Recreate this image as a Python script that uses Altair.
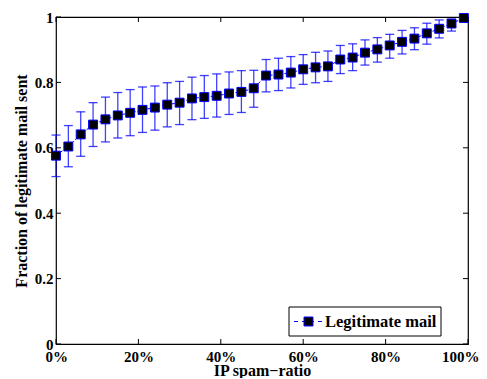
import altair as alt
import pandas as pd

# ---- data ----
ratio = [i * 3 for i in range(34)]
mean = [0.576, 0.604, 0.641, 0.671, 0.687, 0.699, 0.707, 0.716, 0.723, 0.732,
        0.738, 0.751, 0.755, 0.759, 0.766, 0.771, 0.782, 0.821, 0.824, 0.830,
        0.840, 0.846, 0.849, 0.870, 0.876, 0.891, 0.901, 0.913, 0.924, 0.934,
        0.950, 0.964, 0.980, 0.997]
upper = [0.639, 0.668, 0.710, 0.738, 0.755, 0.769, 0.778, 0.786, 0.789, 0.799,
         0.803, 0.816, 0.821, 0.826, 0.832, 0.836, 0.837, 0.870, 0.874, 0.879,
         0.885, 0.892, 0.896, 0.913, 0.918, 0.930, 0.937, 0.947, 0.959, 0.967,
         0.981, 0.991, 0.993, 1.0]
lower = [0.512, 0.542, 0.574, 0.604, 0.618, 0.630, 0.637, 0.647, 0.654, 0.664,
         0.671, 0.686, 0.690, 0.694, 0.702, 0.708, 0.724, 0.771, 0.775, 0.783,
         0.794, 0.799, 0.803, 0.827, 0.836, 0.853, 0.862, 0.874, 0.887, 0.900,
         0.917, 0.936, 0.957, 0.994]
x_ticks = [0, 20, 40, 60, 80, 100]
y_ticks = [0, 0.2, 0.4, 0.6, 0.8, 1.0]
series_name = "Legitimate mail"

W, H = 412, 327
FONT = "Liberation Serif"
BLUE = "#0000ff"

df = pd.DataFrame({"ratio": ratio, "mean": mean, "lo": lower, "hi": upper})
xt = pd.DataFrame({"t": x_ticks})
yt = pd.DataFrame({"t": y_ticks})
one = pd.DataFrame({"a": [0]})

xs = alt.Scale(domain=[0, 100], nice=False)
ys = alt.Scale(domain=[0, 1], nice=False)

xenc = alt.X("ratio:Q", scale=xs,
             axis=alt.Axis(values=x_ticks, labelExpr="datum.value + '%'",
                           title="IP spam\u2212ratio", titleBaseline="alphabetic",
                           titleY=31, labelFlush=True, labelFlushOffset=11,
                           labelPadding=5))
yenc = alt.Y("mean:Q", scale=ys,
             axis=alt.Axis(values=y_ticks,
                           labelExpr="datum.value == 0 || datum.value == 1 ? format(datum.value, 'd') : format(datum.value, '.1f')",
                           title="Fraction of legitimate mail sent", titlePadding=5,
                           labelFlush=False, labelPadding=3))

base = alt.Chart(df)

bars = base.mark_rule(color=BLUE, strokeWidth=1.3, opacity=0.75).encode(
    x=xenc, y=alt.Y("lo:Q", scale=ys), y2="hi:Q")
cap_hi = base.mark_tick(color=BLUE, thickness=1.3, size=9, opacity=0.75, orient="horizontal").encode(
    x=alt.X("ratio:Q", scale=xs), y=alt.Y("hi:Q", scale=ys))
cap_lo = base.mark_tick(color=BLUE, thickness=1.3, size=9, opacity=0.75, orient="horizontal").encode(
    x=alt.X("ratio:Q", scale=xs), y=alt.Y("lo:Q", scale=ys))
line = base.mark_line(color=BLUE, strokeWidth=1, strokeDash=[3, 2]).encode(
    x=alt.X("ratio:Q", scale=xs), y=yenc)
pts = base.mark_point(shape="square", filled=True, fill="black", stroke=BLUE,
                      strokeWidth=1, size=80, opacity=1).encode(
    x=alt.X("ratio:Q", scale=xs), y=alt.Y("mean:Q", scale=ys))

# inward ticks (MATLAB style) on all four sides
tk = dict(color="black", strokeWidth=1)
xb = alt.Chart(xt).mark_rule(**tk).encode(x=alt.X("t:Q", scale=xs), y=alt.value(H), y2=alt.value(H - 5))
xtop = alt.Chart(xt).mark_rule(**tk).encode(x=alt.X("t:Q", scale=xs), y=alt.value(0), y2=alt.value(5))
yl = alt.Chart(yt).mark_rule(**tk).encode(y=alt.Y("t:Q", scale=ys), x=alt.value(0), x2=alt.value(5))
yr = alt.Chart(yt).mark_rule(**tk).encode(y=alt.Y("t:Q", scale=ys), x=alt.value(W - 5), x2=alt.value(W))

# legend box
lx0, lx1, ly0, ly1 = 233, 385, 290, 319
lbox = alt.Chart(one).mark_rect(fill="white", stroke="black", strokeWidth=1).encode(
    x=alt.value(lx0), x2=alt.value(lx1), y=alt.value(ly0), y2=alt.value(ly1))
lline = alt.Chart(one).mark_rule(color=BLUE, strokeWidth=1, strokeDash=[4, 4]).encode(
    x=alt.value(238), x2=alt.value(267), y=alt.value(304.5))
lpt = alt.Chart(one).mark_point(shape="square", filled=True, fill="black", stroke=BLUE,
                                strokeWidth=1, size=80, opacity=1).encode(
    x=alt.value(252.5), y=alt.value(304.5))
ltext = alt.Chart(one).mark_text(align="left", baseline="middle", font=FONT,
                                 fontWeight="bold", fontSize=16.5, color="black").encode(
    x=alt.value(269), y=alt.value(305), text=alt.value(series_name))

chart = alt.layer(bars, cap_hi, cap_lo, line, pts, xb, xtop, yl, yr,
                  lbox, lline, lpt, ltext).properties(
    width=W, height=H,
    autosize=alt.AutoSizeParams(type="none"),
    padding={"left": 48, "top": 9, "right": 11, "bottom": 34},
).configure_view(stroke="black", strokeWidth=1.2).configure_axis(
    domain=False, grid=False, ticks=False,
    labelFont=FONT, labelFontWeight="bold", labelFontSize=15, labelColor="black",
    titleFont=FONT, titleFontWeight="bold", titleFontSize=16, titleColor="black",
)

chart.save("out.html", embed_options={"renderer": "svg", "actions": False})
